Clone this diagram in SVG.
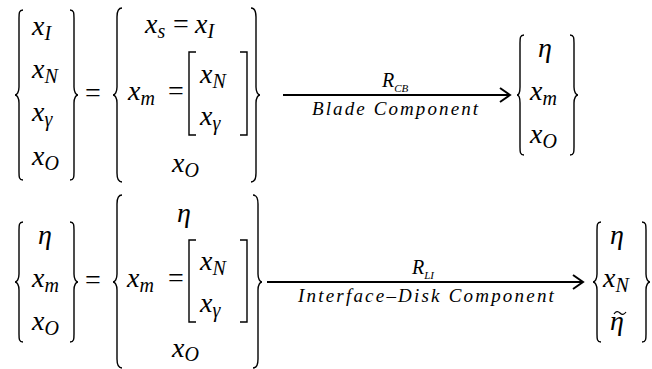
<svg xmlns="http://www.w3.org/2000/svg" width="652" height="369" viewBox="0 0 652 369">
<rect width="652" height="369" fill="#fff"/>
<g id="top-left-vector">
<path fill="none" stroke="#000" stroke-width="1.4" d="M23,10 C19,10 19,13 19,18 L19,87 C19,92 17,95 15,95 C17,95 19,98 19,103 L19,172 C19,177 19,180 23,180"/>
<text font-family="Liberation Serif" font-size="28" font-style="italic" x="32" y="35">x<tspan font-size="20" dy="5">I</tspan></text>
<text font-family="Liberation Serif" font-size="28" font-style="italic" x="32" y="78">x<tspan font-size="20" dy="5">N</tspan></text>
<text font-family="Liberation Serif" font-size="28" font-style="italic" x="32" y="121">x<tspan font-size="20" dy="5">γ</tspan></text>
<text font-family="Liberation Serif" font-size="28" font-style="italic" x="32" y="165">x<tspan font-size="20" dy="5">O</tspan></text>
<path fill="none" stroke="#000" stroke-width="1.4" d="M70,10 C74,10 74,13 74,18 L74,87 C74,92 76,95 78,95 C76,95 74,98 74,103 L74,172 C74,177 74,180 70,180"/>
</g>
<text font-family="Liberation Serif" font-size="28" x="85" y="102">=</text>

<g id="top-middle-vector">
<path fill="none" stroke="#000" stroke-width="1.4" d="M122,8 C118,8 117,11 117,17 L117,87 C117,92 115,95 113,95 C115,95 117,98 117,103 L117,173 C117,179 118,182 122,182"/>
<text font-family="Liberation Serif" font-size="28" font-style="italic" x="145" y="33">x<tspan font-size="20" dy="5">s</tspan></text>
<text font-family="Liberation Serif" font-size="28" x="173" y="33">=</text>
<text font-family="Liberation Serif" font-size="28" font-style="italic" x="195" y="33">x<tspan font-size="20" dy="5">I</tspan></text>
<text font-family="Liberation Serif" font-size="28" font-style="italic" x="128" y="100">x<tspan font-size="20" dy="5">m</tspan></text>
<text font-family="Liberation Serif" font-size="28" x="168" y="100">=</text>
<path fill="none" stroke="#000" stroke-width="1.4" d="M196,52 L189,52 L189,135 L196,135"/>
<text font-family="Liberation Serif" font-size="28" font-style="italic" x="200" y="83">x<tspan font-size="20" dy="5">N</tspan></text>
<text font-family="Liberation Serif" font-size="28" font-style="italic" x="200" y="125">x<tspan font-size="20" dy="5">γ</tspan></text>
<path fill="none" stroke="#000" stroke-width="1.4" d="M240,52 L247,52 L247,135 L240,135"/>
<text font-family="Liberation Serif" font-size="28" font-style="italic" x="172" y="172">x<tspan font-size="20" dy="5">O</tspan></text>
<path fill="none" stroke="#000" stroke-width="1.4" d="M251,8 C255,8 256,11 256,17 L256,87 C256,92 258,95 260,95 C258,95 256,98 256,103 L256,173 C256,179 255,182 251,182"/>
</g>

<g id="top-right-vector">
<path fill="none" stroke="#000" stroke-width="1.4" d="M524,35 C520,35 520,38 520,43 L520,87 C520,92 519,95 517,95 C519,95 520,98 520,103 L520,147 C520,152 520,155 524,155"/>
<text font-family="Liberation Serif" font-size="28" font-style="italic" x="538" y="57">η</text>
<text font-family="Liberation Serif" font-size="28" font-style="italic" x="530" y="100">x<tspan font-size="20" dy="5">m</tspan></text>
<text font-family="Liberation Serif" font-size="28" font-style="italic" x="530" y="143">x<tspan font-size="20" dy="5">O</tspan></text>
<path fill="none" stroke="#000" stroke-width="1.4" d="M570,35 C574,35 574,38 574,43 L574,87 C574,92 576,95 578,95 C576,95 574,98 574,103 L574,147 C574,152 574,155 570,155"/>
</g>

<g id="bottom-left-vector">
<path fill="none" stroke="#000" stroke-width="1.4" d="M23,222 C19,222 19,225 19,230 L19,274 C19,279 17,282 15,282 C17,282 19,285 19,290 L19,334 C19,339 19,342 23,342"/>
<text font-family="Liberation Serif" font-size="28" font-style="italic" x="38" y="244">η</text>
<text font-family="Liberation Serif" font-size="28" font-style="italic" x="32" y="287">x<tspan font-size="20" dy="5">m</tspan></text>
<text font-family="Liberation Serif" font-size="28" font-style="italic" x="32" y="330">x<tspan font-size="20" dy="5">O</tspan></text>
<path fill="none" stroke="#000" stroke-width="1.4" d="M70,222 C74,222 74,225 74,230 L74,274 C74,279 76,282 78,282 C76,282 74,285 74,290 L74,334 C74,339 74,342 70,342"/>
</g>
<text font-family="Liberation Serif" font-size="28" x="85" y="289">=</text>

<g id="bottom-middle-vector">
<path fill="none" stroke="#000" stroke-width="1.4" d="M122,195 C118,195 117,198 117,204 L117,274 C117,279 115,282 113,282 C115,282 117,285 117,290 L117,359 C117,365 118,368 122,368"/>
<text font-family="Liberation Serif" font-size="28" font-style="italic" x="177" y="222">η</text>
<text font-family="Liberation Serif" font-size="28" font-style="italic" x="127" y="287">x<tspan font-size="20" dy="5">m</tspan></text>
<text font-family="Liberation Serif" font-size="28" x="168" y="287">=</text>
<path fill="none" stroke="#000" stroke-width="1.4" d="M196,240 L189,240 L189,322 L196,322"/>
<text font-family="Liberation Serif" font-size="28" font-style="italic" x="200" y="270">x<tspan font-size="20" dy="5">N</tspan></text>
<text font-family="Liberation Serif" font-size="28" font-style="italic" x="200" y="312">x<tspan font-size="20" dy="5">γ</tspan></text>
<path fill="none" stroke="#000" stroke-width="1.4" d="M240,240 L247,240 L247,322 L240,322"/>
<text font-family="Liberation Serif" font-size="28" font-style="italic" x="172" y="357">x<tspan font-size="20" dy="4">O</tspan></text>
<path fill="none" stroke="#000" stroke-width="1.4" d="M253,195 C257,195 258,198 258,204 L258,274 C258,279 260,282 262,282 C260,282 258,285 258,290 L258,359 C258,365 257,368 253,368"/>
</g>

<g id="bottom-right-vector">
<path fill="none" stroke="#000" stroke-width="1.4" d="M601,222 C597,222 597,225 597,230 L597,274 C597,279 595,282 593,282 C595,282 597,285 597,290 L597,334 C597,339 597,342 601,342"/>
<text font-family="Liberation Serif" font-size="28" font-style="italic" x="610" y="244">η</text>
<text font-family="Liberation Serif" font-size="28" font-style="italic" x="603" y="287">x<tspan font-size="20" dy="5">N</tspan></text>
<text font-family="Liberation Serif" font-size="28" font-style="italic" x="610" y="330">η</text>
<path fill="none" stroke="#000" stroke-width="1.2" d="M614,314 C616,311 618,311 620,313 C622,315 624,315 626,312"/>
<path fill="none" stroke="#000" stroke-width="1.4" d="M642,222 C646,222 646,225 646,230 L646,274 C646,279 648,282 650,282 C648,282 646,285 646,290 L646,334 C646,339 646,342 642,342"/>
</g>

<g id="connectors">
<line x1="283" y1="95" x2="509" y2="95" stroke="#000" stroke-width="1.8"/>
<path d="M500,88 L510,95 L500,102" fill="none" stroke="#000" stroke-width="2"/>
<text font-family="Liberation Serif" font-size="20" font-style="italic" x="382" y="87">R<tspan font-size="11" dy="5">CB</tspan></text>
<text font-family="Liberation Serif" font-size="19" font-style="italic" letter-spacing="2.1" x="312" y="115">Blade Component</text>
<line x1="267" y1="282" x2="582" y2="282" stroke="#000" stroke-width="1.8"/>
<path d="M573,275 L583,282 L573,289" fill="none" stroke="#000" stroke-width="2"/>
<text font-family="Liberation Serif" font-size="20" font-style="italic" x="412" y="274">R<tspan font-size="11" dy="5">LI</tspan></text>
<text font-family="Liberation Serif" font-size="19" font-style="italic" letter-spacing="2.2" x="298" y="302">Interface–Disk Component</text>
</g>
</svg>
